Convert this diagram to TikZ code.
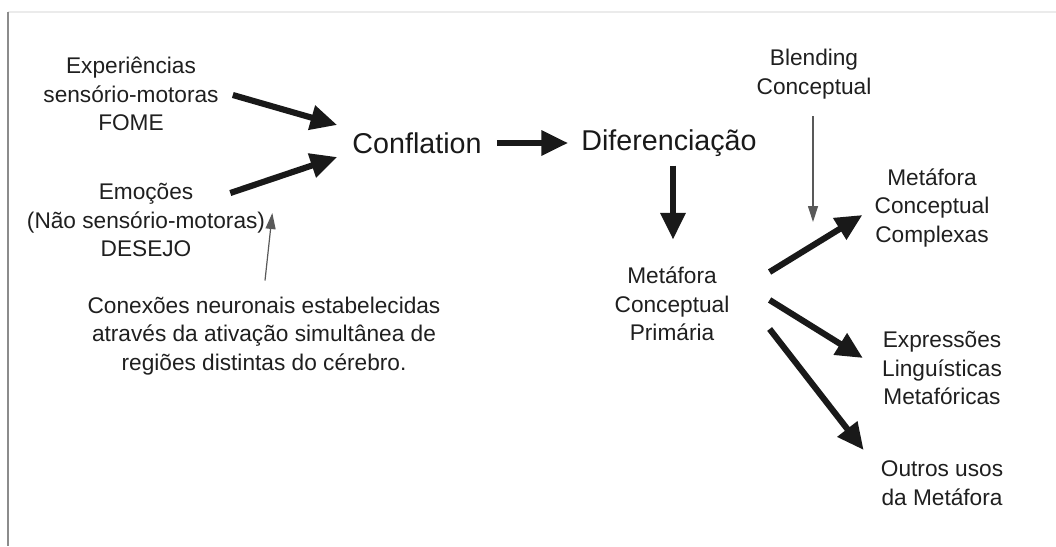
\documentclass[tikz,border=0pt]{standalone}
\usepackage{fontspec}
\setmainfont{Liberation Sans}
\usetikzlibrary{arrows.meta}

\begin{document}
\begin{tikzpicture}[x=0.75pt,y=-0.75pt,
	txt/.style={align=center,inner sep=0pt,text=black!88,font=\fontsize{17}{21.5}\selectfont},
	bigtxt/.style={inner sep=0pt,text=black!90,font=\fontsize{21.5}{26}\selectfont},
	bigarrow/.style={line width=4.6pt,black!90,-{Triangle[length=20pt,width=18pt]}},
	thinarrow/.style={line width=0.9pt,black!65,-{Triangle[length=12pt,width=7.5pt]}}]
	\useasboundingbox (0,0) rectangle (1056,546);
	\draw [black!8,line width=0.8pt](8,12) -- (1056,12);
	\draw [black!45,line width=1.2pt](8,12) -- (8,546);
	% left side
	\node[txt] (exp) at (131,94) {Experiências\\sensório-motoras\\FOME};
	\node[txt] (emo) at (146,220) {Emoções\\(Não sensório-motoras)\\DESEJO};
	\node[txt] (cone) at (264,336) {Conexões neuronais estabelecidas\\através da ativação simultânea de\\regiões distintas do cérebro.};
	\node[bigtxt] (con) at (417,143) {Conflation};
	\node[bigtxt] (dif) at (669,143) {Diferenciação};
	% right side
	\node[txt] (prim) at (672,304) {Metáfora\\Conceptual\\Primária};
	\node[txt] (blend) at (814,74) {Blending\\Conceptual};
	\node[txt] (comp) at (932,208) {Metáfora\\Conceptual\\Complexas};
	\node[txt] (expr) at (942,368) {Expressões\\Linguísticas\\Metafóricas};
	\node[txt] (outr) at (942,483) {Outros usos\\da Metáfora};
	\coordinate (mix) at (813,222);
	\draw [bigarrow]([shift={(14,1)}]exp.east) -- ([shift={(-15,-18)}]con.west);
	\draw [bigarrow]([shift={(-35,-27)}]emo.east) -- ([shift={(-15,14)}]con.west);
	\draw [thinarrow]([shift={(1,-16)}]cone.north) -- ([shift={(7,-7)}]emo.east);
	\draw [bigarrow]([shift={(15,0)}]con.east) -- ([shift={(-13,0)}]dif.west);
	\draw [bigarrow]([shift={(4,9)}]dif.south) -- ([shift={(1,-27)}]prim.north);
	\draw [thinarrow]([shift={(-1,17)}]blend.south) -- (mix);
	\draw [bigarrow]([shift={(40,-32)}]prim.east) -- ([shift={(-12,7)}]comp.west);
	\draw [bigarrow]([shift={(40,-4)}]prim.east) -- ([shift={(-19,-10)}]expr.west);
	\draw [bigarrow]([shift={(40,25)}]prim.east) -- ([shift={(-17,-33)}]outr.west);
\end{tikzpicture}
\end{document}
